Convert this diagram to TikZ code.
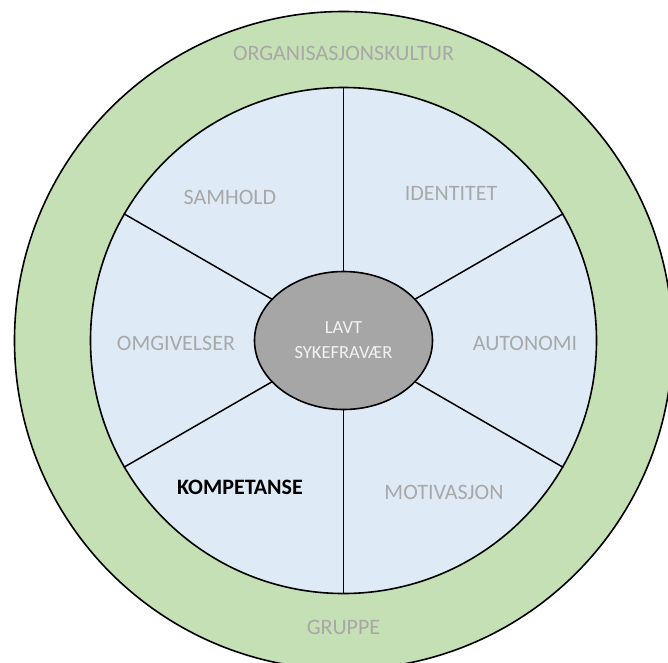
\documentclass[tikz,border=0pt]{standalone}
\usepackage{fontspec}
\setmainfont{Carlito}
\usetikzlibrary{shapes.geometric}
\definecolor{ringgreen}{HTML}{C5E0B4}
\definecolor{sectorblue}{HTML}{DEEBF7}
\definecolor{hubgray}{HTML}{A6A6A6}
\definecolor{labelgray}{HTML}{A8A8A8}
\definecolor{hubtext}{HTML}{F2F2F2}
\begin{document}
\begin{tikzpicture}[x=1pt,y=1pt,
  outline/.style={draw=black, line width=1.6},
  spoke/.style={draw=black, line width=1.5},
  label/.style={font=\fontsize{22}{25}\selectfont, text=labelgray, inner sep=0},
  boldlabel/.style={font=\fontsize{22}{25}\selectfont\bfseries, text=black, inner sep=0},
  hublabel/.style={font=\fontsize{18.5}{25}\selectfont, text=hubtext, align=center, inner sep=0}]
\useasboundingbox (-343.5,-321.5) rectangle (324.5,340.5);
\begin{scope}
  \clip (-343.5,-321.5) rectangle (324.5,340.5);
  % outer ring (organisation culture / group)
  \node[outline, fill=ringgreen, circle, minimum size=658, inner sep=0] (outer) at (0,0) {};
\end{scope}
% six sectors
\node[outline, fill=sectorblue, circle, minimum size=506, inner sep=0] (inner) at (0,0) {};
\coordinate (mid) at (0,0);
\foreach \a in {90,30,-30,-90,-150,150}
  \draw[spoke] (mid) -- (inner.\a);
% hub
\node[outline, fill=hubgray, ellipse, minimum width=178, minimum height=138, inner sep=0] (hub) at (0,0) {};
\node[hublabel] (hubtxt) at (0,0) {LAVT\\SYKEFRAVÆR};
% ring labels
\node[label] (org) at (0,287) {ORGANISASJONSKULTUR};
\node[label] (grp) at (0,-286.5) {GRUPPE};
% sector labels
\node[label] (samhold) at (-113.5,143) {SAMHOLD};
\node[label] (identitet) at (107.5,147) {IDENTITET};
\node[label] (omgiv) at (-167.5,-2.5) {OMGIVELSER};
\node[label] (autonomi) at (181.5,-2.5) {AUTONOMI};
\node[boldlabel] (kompetanse) at (-103.5,-146.5) {KOMPETANSE};
\node[label] (motivasjon) at (100.5,-151.5) {MOTIVASJON};
\end{tikzpicture}
\end{document}
